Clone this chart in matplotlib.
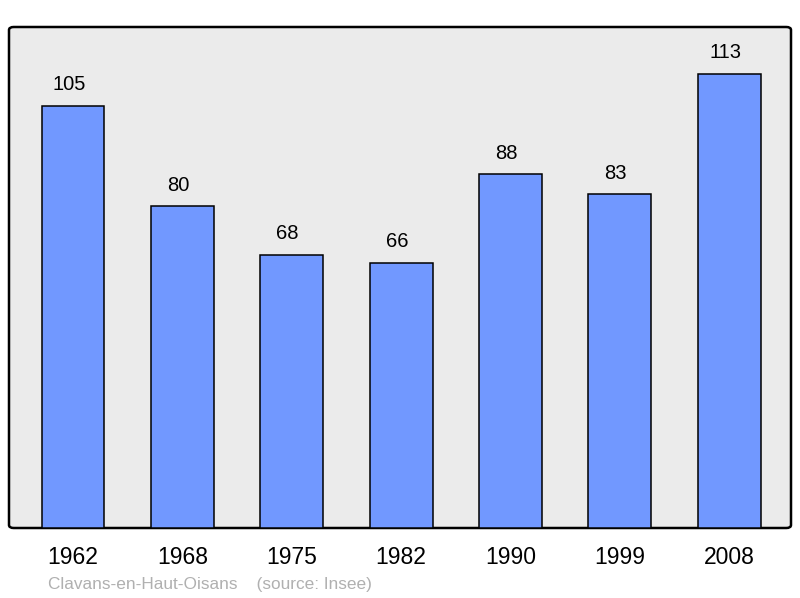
import matplotlib.pyplot as plt
from matplotlib.patches import FancyBboxPatch

years = ["1962", "1968", "1975", "1982", "1990", "1999", "2008"]
population = [105, 80, 68, 66, 88, 83, 113]

plt.rcParams['font.family'] = ['Liberation Sans', 'DejaVu Sans']

fig = plt.figure(figsize=(8, 5.98), dpi=100)
ax = fig.add_axes([9 / 800, 70 / 598, 782 / 800, 501 / 598])
ax.set_facecolor('none')

# rounded frame behind bars
frame = FancyBboxPatch((0, 0), 1, 1, transform=ax.transAxes,
                       boxstyle="round,pad=0,rounding_size=0.006",
                       facecolor='#ebebeb', edgecolor='black',
                       linewidth=1.8, zorder=0, clip_on=False)
ax.add_patch(frame)

x = range(len(years))
bars = ax.bar(x, population, width=0.575, color='#7198ff',
              edgecolor='black', linewidth=1.1, zorder=2)

for xi, v in zip(x, population):
    ax.annotate(str(v), (xi, v), xytext=(-4, 21), textcoords='offset pixels',
                ha='center', va='center', fontsize=14.5)

ax.set_xlim(-0.585, 6.565)
ax.set_ylim(0, 124.6)
ax.set_xticks(list(x))
ax.set_xticklabels(years, fontsize=16.5)
ax.tick_params(axis='x', length=0, pad=13)
ax.set_yticks([])
for s in ax.spines.values():
    s.set_visible(False)

fig.text(48 / 800, 1 - 584 / 598, "Clavans-en-Haut-Oisans    (source: Insee)",
         color='#b0b0b0', fontsize=12.4, va='center', ha='left')

fig.savefig("out.png", dpi=100)
